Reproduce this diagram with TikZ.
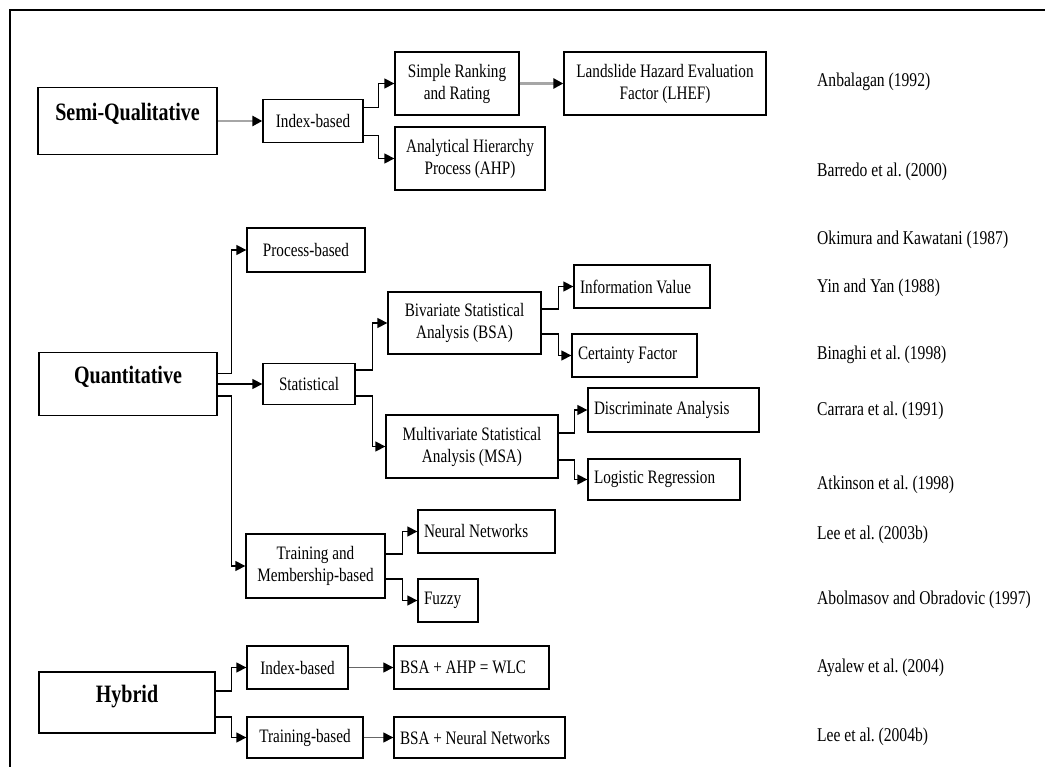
\documentclass[tikz,border=0pt]{standalone}
\usepackage{fontspec}
\setmainfont{Liberation Serif}[FakeStretch=0.8]
\usetikzlibrary{arrows.meta,positioning}

\tikzset{
  box/.style={draw, line width=1.3pt, align=center, inner sep=2pt, font=\fontsize{19}{22}\selectfont},
  lbox/.style={box, align=flush left, inner xsep=6pt},
  mainbox/.style={draw, line width=1.6pt, text height=16pt, text depth=16pt, font=\bfseries\fontsize{25}{30}\selectfont},
  ref/.style={anchor=west, inner sep=0pt, font=\fontsize{19.5}{22}\selectfont},
  arr/.style={line width=1.3pt, -{Triangle[length=10pt,width=10pt]}},
  grayarr/.style={draw=gray!70, line width=2.5pt, -{Triangle[length=10pt,width=10pt,color=black]}},
  thinarr/.style={draw=gray!80!black, line width=1pt, -{Triangle[length=10pt,width=10pt,color=black]}}
}

\begin{document}
\frenchspacing
\begin{tikzpicture}[x=1pt,y=-1pt]
\useasboundingbox (0,0) rectangle (1045,767);
\draw[line width=1.8pt] (10,767) -- (10,10) -- (1045,10);

% semi-qualitative
\node[mainbox, minimum width=179pt, minimum height=67pt] (sq) at (127.5,121) {Semi-Qualitative};
\node[box, minimum width=100pt, minimum height=43pt] (idx) at (313,121) {Index-based};
\node[box, minimum width=124pt, minimum height=63pt] (srr) at (457,83.5) {Simple Ranking\\and Rating};
\node[box, minimum width=202pt, minimum height=63pt] (lhef) at (665,83.5) {Landslide Hazard Evaluation\\Factor (LHEF)};
\node[box, minimum width=150pt, minimum height=63pt] (ahp) at (470,158.5) {Analytical Hierarchy\\Process (AHP)};

% quantitative
\node[mainbox, minimum width=178pt, minimum height=63pt] (qt) at (128,384) {Quantitative};
\node[box, minimum width=118pt, minimum height=44pt] (proc) at (306,250) {Process-based};
\node[box, minimum width=92pt, minimum height=41pt] (stat) at (309,384) {Statistical};
\node[box, minimum width=153pt, minimum height=62pt] (bsa) at (464.5,323) {Bivariate Statistical\\Analysis (BSA)};
\node[lbox, text width=124pt, minimum height=43pt] (iv) at (642,286.5) {Information Value};
\node[lbox, text width=113pt, minimum height=43pt] (cf) at (634.5,355.5) {Certainty Factor};
\node[box, minimum width=172pt, minimum height=63pt] (msa) at (472,446.5) {Multivariate Statistical\\Analysis (MSA)};
\node[lbox, text width=159pt, minimum height=44pt] (da) at (673.5,410) {Discriminate Analysis};
\node[lbox, text width=140pt, minimum height=41pt] (lr) at (664,479.5) {Logistic Regression};
\node[box, minimum width=139pt, minimum height=64pt] (tm) at (315.5,566) {Training and\\Membership-based};
\node[lbox, text width=125pt, minimum height=43pt] (nn) at (486.5,531.5) {Neural Networks};
\node[lbox, text width=48pt, minimum height=43pt] (fz) at (448,600.5) {Fuzzy};

% hybrid
\node[mainbox, minimum width=176pt, minimum height=61pt] (hy) at (127,702.5) {Hybrid};
\node[box, minimum width=101pt, minimum height=43pt] (idxb) at (297.5,667.5) {Index-based};
\node[box, minimum width=116pt, minimum height=41pt] (trb) at (305,737.5) {Training-based};
\node[lbox, text width=143pt, minimum height=43pt] (wlc) at (471.5,667.5) {BSA + AHP = WLC};
\node[lbox, text width=159pt, minimum height=41pt] (bnn) at (479.5,737.5) {BSA + Neural Networks};

% references
\node[ref] (r1) at (817,82) {Anbalagan (1992)};
\node[ref] (r2) at (817,172) {Barredo et al. (2000)};
\node[ref] (r3) at (817,240) {Okimura and Kawatani (1987)};
\node[ref] (r4) at (817,288) {Yin and Yan (1988)};
\node[ref] (r5) at (817,355) {Binaghi et al. (1998)};
\node[ref] (r6) at (817,411) {Carrara et al. (1991)};
\node[ref] (r7) at (817,485) {Atkinson et al. (1998)};
\node[ref] (r8) at (817,535) {Lee et al. (2003b)};
\node[ref] (r9) at (817,600) {Abolmasov and Obradovic (1997)};
\node[ref] (r10) at (817,668) {Ayalew et al. (2004)};
\node[ref] (r11) at (817,737) {Lee et al. (2004b)};

% connectors
\draw[grayarr] (sq) -- (idx);
\draw[arr] ([yshift=13.5pt]idx.east) -- ++(15,0) |- (srr.west);
\draw[arr] ([yshift=-14.5pt]idx.east) -- ++(15,0) |- (ahp.west);
\draw[grayarr] (srr) -- (lhef);

\draw[arr] ([yshift=10.5pt]qt.east) -- ++(14,0) |- (proc.west);
\draw[arr] (qt) -- (stat);
\draw[arr] ([yshift=-12pt]qt.east) -- ++(14,0) |- (tm.west);
\draw[arr] ([yshift=14pt]stat.east) -- ++(17,0) |- (bsa.west);
\draw[arr] ([yshift=-12pt]stat.east) -- ++(17,0) |- (msa.west);
\draw[arr] ([yshift=14pt]bsa.east) -- ++(17,0) |- (iv.west);
\draw[arr] ([yshift=-11pt]bsa.east) -- ++(17,0) |- (cf.west);
\draw[arr] ([yshift=13.5pt]msa.east) -- ++(16,0) |- (da.west);
\draw[arr] ([yshift=-13.5pt]msa.east) -- ++(16,0) |- (lr.west);
\draw[arr] ([yshift=12pt]tm.east) -- ++(17,0) |- (nn.west);
\draw[arr] ([yshift=-13pt]tm.east) -- ++(17,0) |- (fz.west);

\draw[arr] ([yshift=11.5pt]hy.east) -- ++(16,0) |- (idxb.west);
\draw[arr] ([yshift=-14.5pt]hy.east) -- ++(16,0) |- (trb.west);
\draw[thinarr] (idxb) -- (wlc);
\draw[thinarr] (trb) -- (bnn);
\end{tikzpicture}
\end{document}
